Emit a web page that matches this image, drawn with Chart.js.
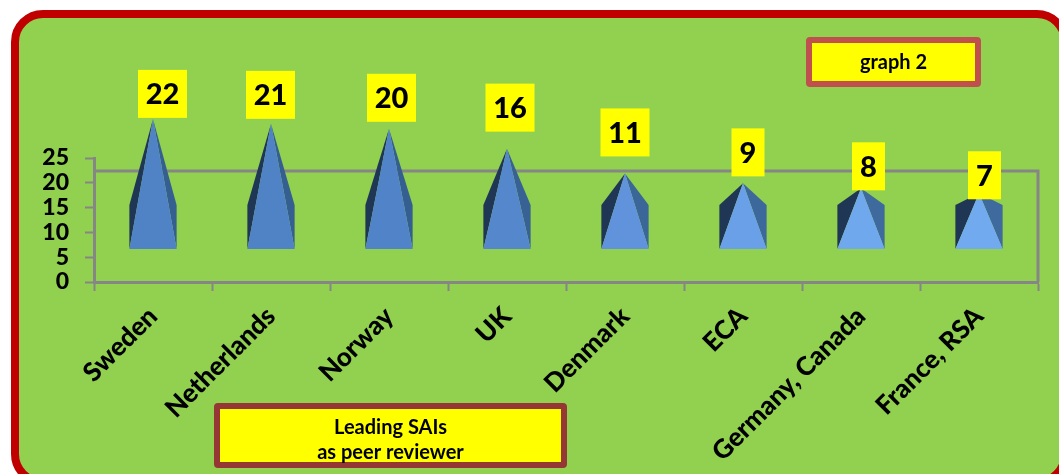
<!DOCTYPE html>
<html>
<head>
<meta charset="utf-8">
<title>Leading SAIs as peer reviewer</title>
<style>
  html, body { margin: 0; padding: 0; background: #fff; }
  canvas { display: block; }
</style>
<script src="https://cdn.jsdelivr.net/npm/chart.js@4/dist/chart.umd.min.js"></script>
</head>
<body>
<canvas id="peerChart" width="1059" height="474"></canvas>
<script>
const categories = ["Sweden", "Netherlands", "Norway", "UK", "Denmark", "ECA", "Germany, Canada", "France, RSA"];
const reviewCounts = [22, 21, 20, 16, 11, 9, 8, 7];
const yTicks = [0, 5, 10, 15, 20, 25];

// Excel's pyramid gradient gets lighter as the bars get shorter
const frontColors = ["#5082c6", "#5082c6", "#5183c8", "#5587cc", "#6093dc", "#6aa0e8", "#70a8ee", "#72aaf0"];
const rightColors = ["#365f91", "#365f91", "#365f91", "#386293", "#3b6698", "#3d689b", "#3f6a9e", "#3f6a9e"];
// hand placed value boxes in the original: shift from the pyramid tip
const boxShiftX = [9.5, -0.5, 2.5, 3, 0, 5, 7.5, 5.5];
const boxGap = [1, 5, 7, 17, 17, 7, -2, -6];

const FONT = "Lato, 'Liberation Sans', sans-serif";
const GREY = "#868686";

function roundedRect(ctx, x, y, w, h, r) {
  ctx.beginPath();
  ctx.roundRect(x, y, w, h, r);
}

function noteBox(ctx, x, y, w, h, border, lines, lineY) {
  ctx.fillStyle = "#ffff00";
  ctx.strokeStyle = border;
  ctx.lineWidth = 6;
  roundedRect(ctx, x + 3, y + 3, w - 6, h - 6, 1);
  ctx.fill();
  ctx.stroke();
  ctx.fillStyle = "#000";
  ctx.font = "bold 20px " + FONT;
  ctx.textAlign = "center";
  ctx.textBaseline = "middle";
  lines.forEach((t, i) => ctx.fillText(t, x + w / 2, lineY[i]));
}

const panelPlugin = {
  id: "panel",
  beforeDraw(chart) {
    const ctx = chart.ctx;
    const { left, right, top, bottom } = chart.chartArea;
    ctx.save();
    ctx.fillStyle = "#fff";
    ctx.fillRect(0, 0, chart.width, chart.height);
    roundedRect(ctx, 15, 14, 1050, 468, 28);
    ctx.fillStyle = "#92d050";
    ctx.fill();
    ctx.strokeStyle = "#c00000";
    ctx.lineWidth = 8;
    ctx.stroke();

    // back wall of the 3D plot
    ctx.strokeStyle = GREY;
    ctx.lineWidth = 3;
    ctx.beginPath();
    ctx.moveTo(left, top + 13);
    ctx.lineTo(right, top + 13);
    ctx.lineTo(right, bottom);
    ctx.stroke();
    ctx.restore();
  }
};

const pyramidPlugin = {
  id: "pyramids",
  afterDatasetsDraw(chart) {
    const ctx = chart.ctx;
    const y0 = chart.scales.y.getPixelForValue(0);
    const baseY = y0 - 33;
    const shoulderY = y0 - 77;
    ctx.save();
    chart.getDatasetMeta(0).data.forEach((bar, i) => {
      const half = bar.width / 2;
      const tipY = bar.y - 54;

      ctx.fillStyle = "#1f3655";
      ctx.beginPath();
      ctx.moveTo(bar.x - half, baseY);
      ctx.lineTo(bar.x - half, shoulderY);
      ctx.lineTo(bar.x, tipY);
      ctx.closePath();
      ctx.fill();

      ctx.fillStyle = rightColors[i];
      ctx.beginPath();
      ctx.moveTo(bar.x + half, baseY);
      ctx.lineTo(bar.x + half, shoulderY);
      ctx.lineTo(bar.x, tipY);
      ctx.closePath();
      ctx.fill();

      ctx.fillStyle = frontColors[i];
      ctx.beginPath();
      ctx.moveTo(bar.x - half, baseY);
      ctx.lineTo(bar.x + half, baseY);
      ctx.lineTo(bar.x, tipY);
      ctx.closePath();
      ctx.fill();
    });

    // value boxes go over the pyramids
    ctx.font = "900 29px " + FONT;
    ctx.textAlign = "center";
    ctx.textBaseline = "middle";
    chart.getDatasetMeta(0).data.forEach((bar, i) => {
      const label = String(reviewCounts[i]);
      const w = label.length > 1 ? 49 : 33;
      const h = 48;
      const cx = bar.x + boxShiftX[i];
      const boxBottom = bar.y - 54 - boxGap[i];
      ctx.fillStyle = "#ffff00";
      ctx.fillRect(cx - w / 2, boxBottom - h, w, h);
      ctx.fillStyle = "#000";
      ctx.fillText(label, cx, boxBottom - h / 2 + 1);
    });

    noteBox(ctx, 806, 37, 175, 50, "#c0504d", ["graph 2"], [63]);
    noteBox(ctx, 214, 403, 353, 65, "#953735", ["Leading SAIs", "as peer reviewer"], [428, 453]);
    ctx.restore();
  }
};

new Chart(document.getElementById("peerChart"), {
  type: "bar",
  data: {
    labels: categories,
    datasets: [{
      data: reviewCounts,
      backgroundColor: "transparent",
      categoryPercentage: 0.4,
      barPercentage: 1
    }]
  },
  options: {
    responsive: false,
    animation: false,
    layout: { padding: { top: 158, right: 21, left: 0, bottom: 0 } },
    plugins: { legend: { display: false }, tooltip: { enabled: false } },
    scales: {
      x: {
        grid: { drawOnChartArea: false, drawTicks: true, tickLength: 9, tickWidth: 2, color: GREY },
        border: { color: GREY, width: 3 },
        ticks: {
          autoSkip: false,
          maxRotation: 45,
          minRotation: 45,
          padding: 10,
          color: "#000",
          font: { family: FONT, size: 26, weight: "900" }
        },
        afterFit(scale) { scale.height = 192; }
      },
      y: {
        min: 0,
        max: 25,
        afterBuildTicks(scale) { scale.ticks = yTicks.map(v => ({ value: v })); },
        grid: { drawOnChartArea: false, drawTicks: true, tickLength: 9, tickWidth: 2, color: GREY },
        border: { color: GREY, width: 3 },
        ticks: {
          autoSkip: false,
          padding: 16,
          color: "#000",
          font: { family: FONT, size: 23, weight: "900" }
        },
        afterFit(scale) { scale.width = 94; }
      }
    }
  },
  plugins: [panelPlugin, pyramidPlugin]
});
</script>
</body>
</html>
